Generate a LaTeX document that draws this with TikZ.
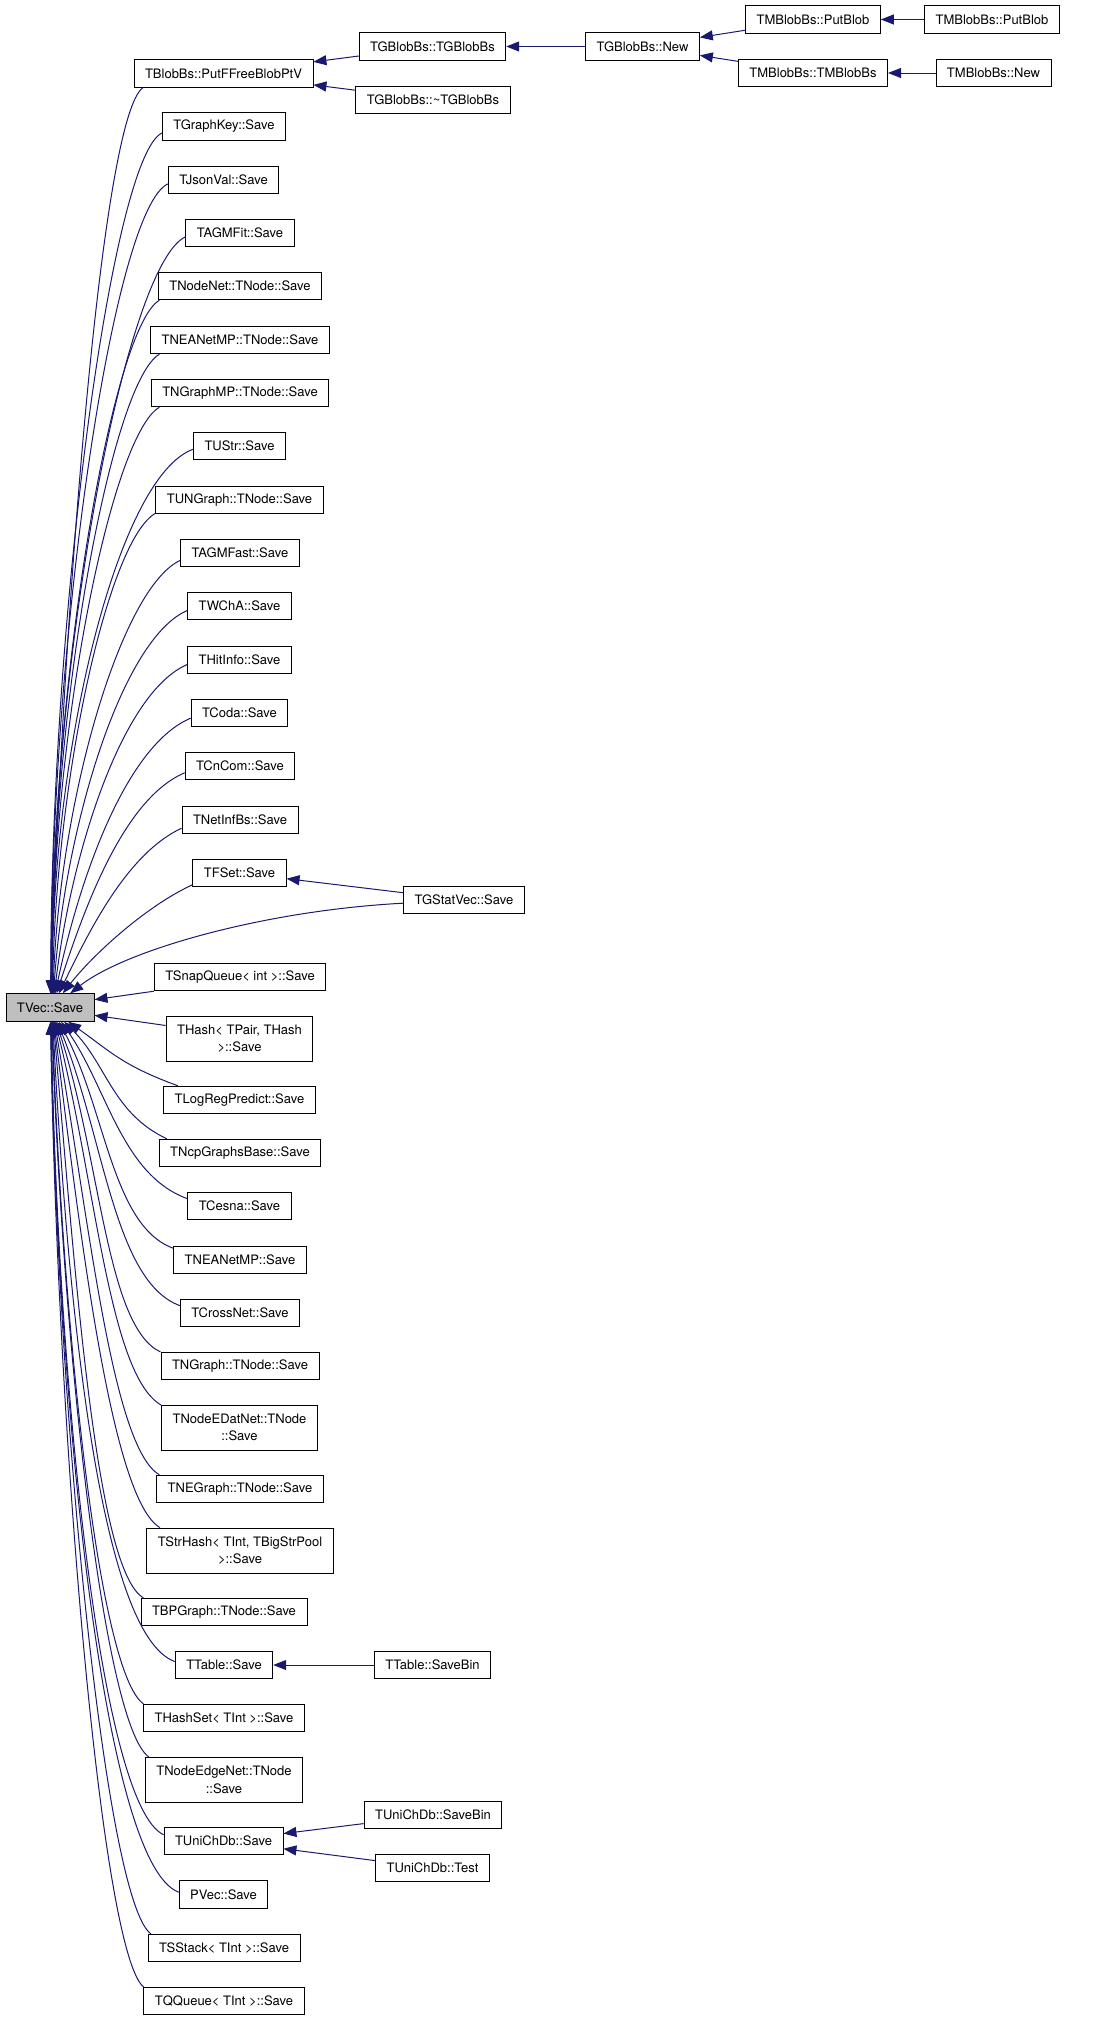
\documentclass[tikz,border=0pt]{standalone}
\usepackage{fontspec}
\setmainfont{TeX Gyre Heros}
\usepackage{xcolor}
\usetikzlibrary{arrows.meta}

\definecolor{edgeblue}{HTML}{191970}
\definecolor{curgray}{HTML}{BFBFBF}

\tikzset{
  fn/.style={draw=black, line width=0.9pt, fill=white, inner xsep=11pt, inner ysep=7pt,
             minimum height=27.5pt, align=center, font=\fontsize{13}{17.3}\selectfont},
  fntwo/.style={fn, minimum height=45pt},
  cur/.style={fn, fill=curgray},
  call/.style={draw=edgeblue, line width=1pt, >={Triangle[length=13pt,width=10pt]}, <-}
}

\begin{document}
\begin{tikzpicture}[x=1pt, y=1pt]
\useasboundingbox (0,0) rectangle (1101,-2021);

\node[cur] (tvec) at (50,-1007.5) {TVec::Save};

\node[fn] (putffree)   at (223.5,-73.5)  {TBlobBs::PutFFreeBlobPtV};
\node[fn] (graphkey)   at (224,-126.5)   {TGraphKey::Save};
\node[fn] (jsonval)    at (223.5,-180)   {TJsonVal::Save};
\node[fn] (agmfit)     at (240,-233)     {TAGMFit::Save};
\node[fn] (nodenet)    at (240,-286)     {TNodeNet::TNode::Save};
\node[fn] (neanetnode) at (240,-340)     {TNEANetMP::TNode::Save};
\node[fn] (ngraphmp)   at (240,-393)     {TNGraphMP::TNode::Save};
\node[fn] (ustr)       at (239.5,-446)   {TUStr::Save};
\node[fn] (ungraph)    at (239.5,-500)   {TUNGraph::TNode::Save};
\node[fn] (agmfast)    at (240,-553)     {TAGMFast::Save};
\node[fn] (wcha)       at (239.5,-606)   {TWChA::Save};
\node[fn] (hitinfo)    at (239.5,-660)   {THitInfo::Save};
\node[fn] (coda)       at (239.5,-713)   {TCoda::Save};
\node[fn] (cncom)      at (240,-766)     {TCnCom::Save};
\node[fn] (netinfbs)   at (240,-820)     {TNetInfBs::Save};
\node[fn] (fset)       at (239.5,-873)   {TFSet::Save};
\node[fn] (snapq)      at (240,-977)     {TSnapQueue< int >::Save};
\node[fntwo] (thash)   at (239.5,-1038.5) {THash< TPair, THash\\>::Save};
\node[fn] (logreg)     at (239.5,-1100)  {TLogRegPredict::Save};
\node[fn] (ncp)        at (240,-1153)    {TNcpGraphsBase::Save};
\node[fn] (cesna)      at (239.5,-1206)  {TCesna::Save};
\node[fn] (neanetmp)   at (240,-1260)    {TNEANetMP::Save};
\node[fn] (crossnet)   at (240,-1313)    {TCrossNet::Save};
\node[fn] (ngraph)     at (240,-1366)    {TNGraph::TNode::Save};
\node[fntwo] (nodeedat) at (239.5,-1427.5) {TNodeEDatNet::TNode\\::Save};
\node[fn] (negraph)    at (240,-1489)    {TNEGraph::TNode::Save};
\node[fntwo] (strhash) at (240,-1550.5)  {TStrHash< TInt, TBigStrPool\\>::Save};
\node[fn] (bpgraph)    at (224,-1612)    {TBPGraph::TNode::Save};
\node[fn] (ttable)     at (224,-1665)    {TTable::Save};
\node[fn] (hashset)    at (224,-1718)    {THashSet< TInt >::Save};
\node[fntwo] (nodeedge) at (224,-1780)   {TNodeEdgeNet::TNode\\::Save};
\node[fn] (unichdb)    at (223.5,-1841)  {TUniChDb::Save};
\node[fn] (pvec)       at (223.5,-1894.5) {PVec::Save};
\node[fn] (sstack)     at (224,-1948)    {TSStack< TInt >::Save};
\node[fn] (qqueue)     at (224,-2001)    {TQQueue< TInt >::Save};

\node[fn] (tgblobbs)   at (432.5,-46.5)  {TGBlobBs::TGBlobBs};
\node[fn] (dtgblobbs)  at (433,-100)     {TGBlobBs::\textasciitilde TGBlobBs};
\node[fn] (gstatvec)   at (464,-900)     {TGStatVec::Save};
\node[fn] (savebin)    at (432.5,-1665)  {TTable::SaveBin};
\node[fn] (unisavebin) at (433,-1815)    {TUniChDb::SaveBin};
\node[fn] (unitest)    at (432.5,-1868)  {TUniChDb::Test};
\node[fn] (gblobnew)   at (642.5,-46.5)  {TGBlobBs::New};
\node[fn] (putblob)    at (813,-19.5)    {TMBlobBs::PutBlob};
\node[fn] (tmblobbs)   at (813,-73)      {TMBlobBs::TMBlobBs};
\node[fn] (putblobb)   at (992,-19.5)    {TMBlobBs::PutBlob};
\node[fn] (mblobnew)   at (993.5,-73)    {TMBlobBs::New};

\foreach \nm/\ta/\tout/\tlen/\na/\nin/\nlen in {
    putffree/88/88/400/190/215/50, graphkey/87/90/380/186/205/55,
    jsonval/86/90/360/184/205/60, agmfit/85/90/340/184/205/65,
    nodenet/84/90/310/190/210/55, neanetnode/83/90/290/190/210/55,
    ngraphmp/82/90/265/190/210/55, ustr/81/90/245/184/200/80,
    ungraph/80/89/215/189/210/55, agmfast/78/88/195/187/205/65,
    wcha/76/86/170/185/203/70, hitinfo/73/83/145/185/203/70,
    coda/70/78/120/186/203/70, cncom/65/72/95/187/203/65,
    netinfbs/58/64/70/188/205/60, fset/48/52/45/194/205/55,
    gstatvec/35/38/70/183/183/140,
    logreg/-38/-35/50/167/160/60, ncp/-45/-45/60/169/155/60,
    cesna/-52/-55/80/172/160/70, neanetmp/-58/-62/100/170/160/65,
    crossnet/-63/-68/125/173/160/70, ngraph/-67/-72/145/170/155/60,
    nodeedat/-70/-76/170/164/150/60, negraph/-73/-80/200/170/150/55,
    strhash/-75/-83/225/164/150/55, bpgraph/-77/-85/255/170/150/55,
    ttable/-79/-87/285/176/160/80, hashset/-81/-88/305/170/145/55,
    nodeedge/-83/-88/330/163/145/55, unichdb/-85/-89/360/174/155/70,
    pvec/-86/-89/385/177/160/80, sstack/-87/-89/400/169/145/55,
    qqueue/-88/-89/420/170/140/55}
  \draw[call] (tvec.\ta) .. controls +(\tout:\tlen) and +(\nin:\nlen) .. (\nm.\na);

\draw[call] (tvec.10) -- (snapq.south west);
\draw[call] (tvec.-10) -- (thash.170);

\draw[call] (putffree) -- (tgblobbs);
\draw[call] (putffree) -- (dtgblobbs);
\draw[call] (tgblobbs) -- (gblobnew);
\draw[call] (gblobnew) -- (putblob);
\draw[call] (gblobnew) -- (tmblobbs);
\draw[call] (putblob) -- (putblobb);
\draw[call] (tmblobbs) -- (mblobnew);
\draw[call] (fset) -- (gstatvec);
\draw[call] (ttable) -- (savebin);
\draw[call] (unichdb) -- (unisavebin);
\draw[call] (unichdb) -- (unitest);
\end{tikzpicture}
\end{document}
